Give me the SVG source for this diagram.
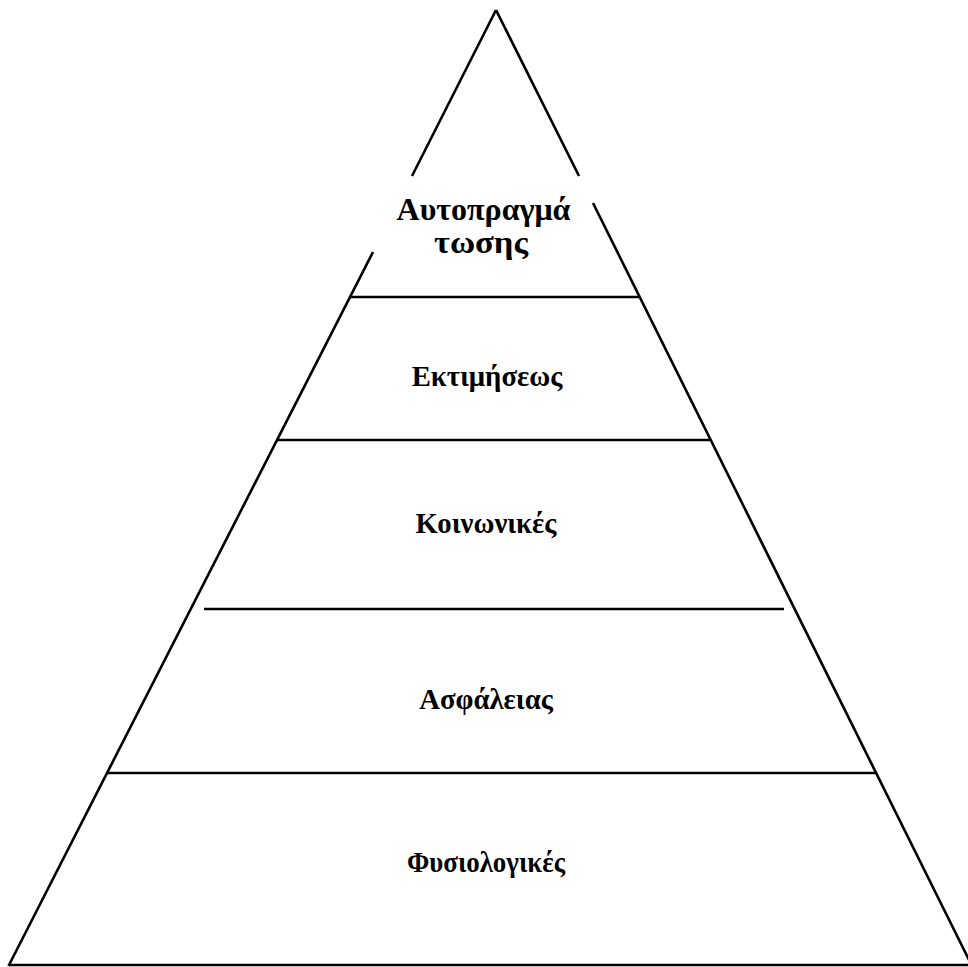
<svg xmlns="http://www.w3.org/2000/svg" width="968" height="967" viewBox="0 0 968 967">
<style>
.ln{stroke:#000;stroke-width:2.6;fill:none;stroke-linecap:butt}
.t{font-family:"Liberation Serif","Times New Roman",serif;font-weight:bold;font-size:28.7px;fill:#000;text-anchor:middle}
.big{font-size:32px}
</style>
<rect width="968" height="967" fill="#fff"/>
<g id="connectors">
<line class="ln" x1="496" y1="10" x2="412" y2="176"/>
<line class="ln" x1="373" y1="252" x2="8.5" y2="966"/>
<line class="ln" x1="496" y1="10" x2="579" y2="176"/>
<line class="ln" x1="593" y1="203" x2="972" y2="966"/>
<line class="ln" x1="350" y1="297" x2="639" y2="297"/>
<line class="ln" x1="277" y1="440" x2="710" y2="440"/>
<line class="ln" x1="204" y1="609" x2="784" y2="609"/>
<line class="ln" x1="107" y1="773" x2="877" y2="773"/>
<line class="ln" x1="9" y1="965" x2="968" y2="965"/>
</g>
<g id="n1"><text class="t big" x="483.5" y="220">Αυτοπραγμά</text><text class="t big" x="481" y="253" textLength="94" lengthAdjust="spacingAndGlyphs">τωσης</text></g>
<g id="n2"><text class="t" x="487" y="386">Εκτιμήσεως</text></g>
<g id="n3"><text class="t" x="486" y="533">Κοινωνικές</text></g>
<g id="n4"><text class="t" x="486" y="709">Ασφάλειας</text></g>
<g id="n5"><text class="t" x="486" y="872" textLength="158" lengthAdjust="spacingAndGlyphs">Φυσιολογικές</text></g>
</svg>
